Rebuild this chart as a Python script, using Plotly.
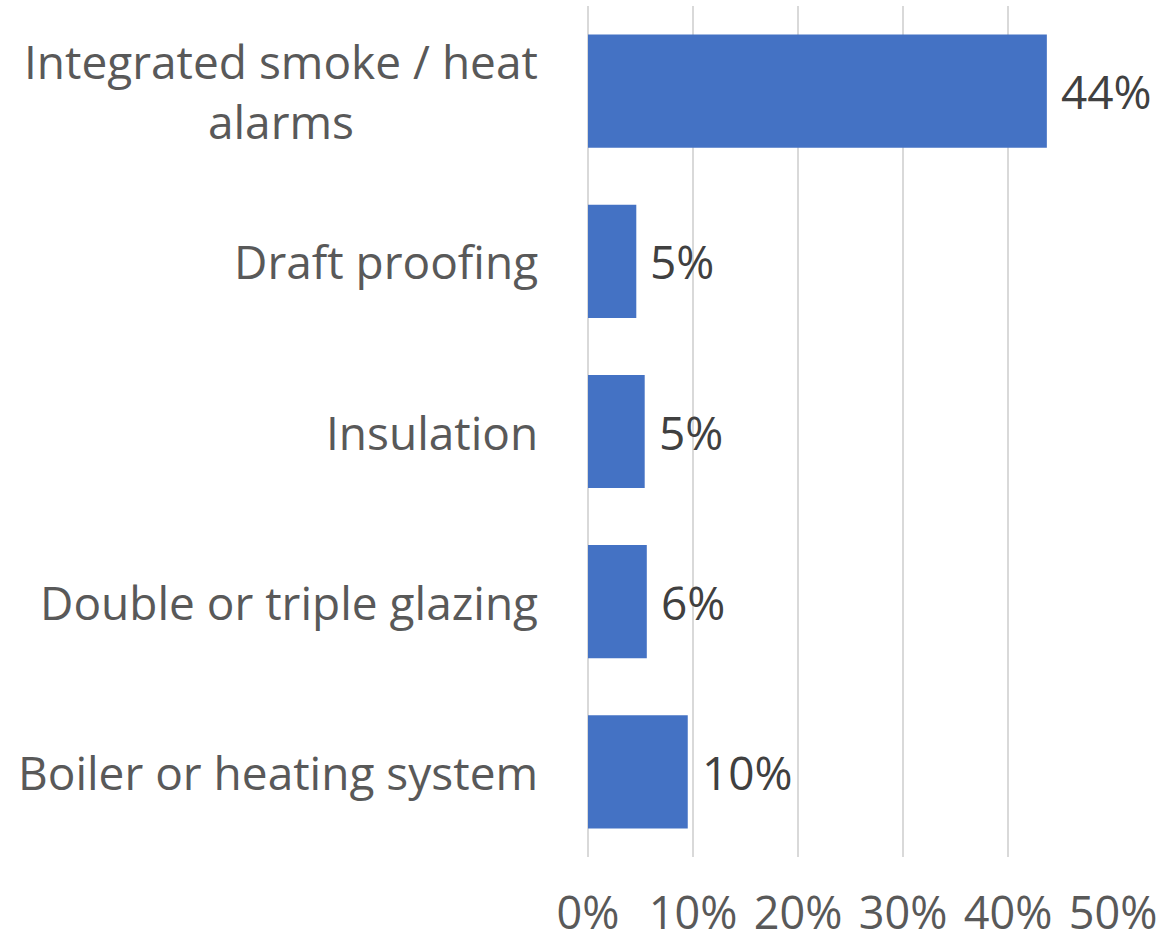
import plotly.graph_objects as go

# Share of respondents by home improvement type
categories = [
    "Integrated smoke / heat<br>alarms",
    "Draft proofing",
    "Insulation",
    "Double or triple glazing",
    "Boiler or heating system",
]
values = [0.437, 0.046, 0.054, 0.056, 0.095]
x_ticks = [0, 0.1, 0.2, 0.3, 0.4, 0.5]
x_tick_labels = ["0%", "10%", "20%", "30%", "40%", "50%"]

FONT = "Open Sans"
FONT_SIZE = 46
BAR_COLOR = "#4472C4"
GRID_COLOR = "#D9D9D9"

fig = go.Figure(
    go.Bar(
        x=values,
        y=categories,
        orientation="h",
        marker=dict(color=BAR_COLOR, line=dict(width=0)),
        hoverinfo="skip",
    )
)

# value labels to the right of each bar
for cat, val in zip(categories, values):
    fig.add_annotation(
        x=val, y=cat, xref="x", yref="y",
        text=f"{val:.0%}",
        showarrow=False, xanchor="left", yanchor="middle", xshift=12,
        font=dict(family=FONT, size=FONT_SIZE, color="#404040"),
    )

# category labels, centred line by line
for cat in categories:
    fig.add_annotation(
        x=0, y=cat, xref="paper", yref="y",
        text=cat, align="center",
        showarrow=False, xanchor="right", yanchor="middle", xshift=-48,
        font=dict(family=FONT, size=FONT_SIZE, color="#595959"),
    )

fig.update_layout(
    width=1160, height=947,
    margin=dict(l=588, r=47, t=6, b=90),
    paper_bgcolor="white", plot_bgcolor="white",
    bargap=0.335,
    showlegend=False,
    font=dict(family=FONT, size=FONT_SIZE, color="#595959"),
)
fig.update_xaxes(
    range=[0, 0.5], tickvals=x_ticks, ticktext=x_tick_labels,
    showgrid=True, gridcolor=GRID_COLOR, gridwidth=2,
    zeroline=True, zerolinecolor=GRID_COLOR, zerolinewidth=2,
    showline=False, ticks="",
    ticklabelstandoff=26, automargin=False,
    tickfont=dict(family=FONT, size=45, color="#595959"),
)
fig.update_yaxes(
    autorange="reversed", showticklabels=False,
    showgrid=False, zeroline=False, showline=False, ticks="",
)

fig.write_html("out.html")
